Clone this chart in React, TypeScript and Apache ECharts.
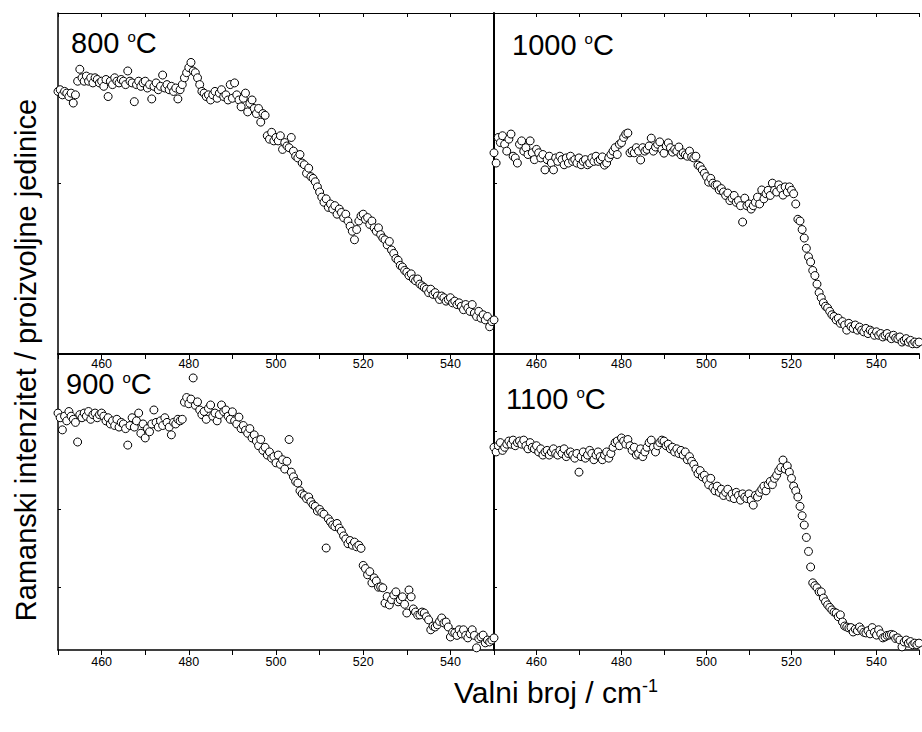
import React, { useEffect, useRef } from "react";
import * as echarts from "echarts";

const WAVENUMBERS = [
  450, 450.5, 451, 451.5, 452, 452.5, 453, 453.5, 454, 454.5, 455, 455.5, 456, 456.5, 457, 457.5, 458, 458.5, 459, 459.5,
  460, 460.5, 461, 461.5, 462, 462.5, 463, 463.5, 464, 464.5, 465, 465.5, 466, 466.5, 467, 467.5, 468, 468.5, 469, 469.5,
  470, 470.5, 471, 471.5, 472, 472.5, 473, 473.5, 474, 474.5, 475, 475.5, 476, 476.5, 477, 477.5, 478, 478.5, 479, 479.5,
  480, 480.5, 481, 481.5, 482, 482.5, 483, 483.5, 484, 484.5, 485, 485.5, 486, 486.5, 487, 487.5, 488, 488.5, 489, 489.5,
  490, 490.5, 491, 491.5, 492, 492.5, 493, 493.5, 494, 494.5, 495, 495.5, 496, 496.5, 497, 497.5, 498, 498.5, 499, 499.5,
  500, 500.5, 501, 501.5, 502, 502.5, 503, 503.5, 504, 504.5, 505, 505.5, 506, 506.5, 507, 507.5, 508, 508.5, 509, 509.5,
  510, 510.5, 511, 511.5, 512, 512.5, 513, 513.5, 514, 514.5, 515, 515.5, 516, 516.5, 517, 517.5, 518, 518.5, 519, 519.5,
  520, 520.5, 521, 521.5, 522, 522.5, 523, 523.5, 524, 524.5, 525, 525.5, 526, 526.5, 527, 527.5, 528, 528.5, 529, 529.5,
  530, 530.5, 531, 531.5, 532, 532.5, 533, 533.5, 534, 534.5, 535, 535.5, 536, 536.5, 537, 537.5, 538, 538.5, 539, 539.5,
  540, 540.5, 541, 541.5, 542, 542.5, 543, 543.5, 544, 544.5, 545, 545.5, 546, 546.5, 547, 547.5, 548, 548.5, 549, 549.5,
  550,
];

const I800 = [
  77.0, 77.5, 76.0, 77.0, 76.5, 75.5, 76.5, 73.6, 76.0, 80.0, 83.5, 81.0, 80.0, 81.5, 80.0, 81.0, 79.5, 81.0, 80.5, 79.5,
  80.0, 78.5, 80.5, 75.5, 80.0, 79.0, 81.0, 80.0, 79.5, 80.5, 80.0, 79.0, 83.0, 80.0, 79.5, 74.0, 79.0, 80.0, 78.5, 79.5,
  80.0, 78.0, 79.0, 74.8, 78.5, 79.5, 77.5, 78.5, 81.8, 78.0, 79.0, 77.5, 78.5, 77.0, 78.0, 74.8, 77.5, 79.0, 81.0, 82.5,
  84.0, 85.5, 83.0, 82.5, 81.0, 79.0, 77.0, 76.5, 75.5, 76.0, 74.5, 76.0, 77.0, 75.0, 76.5, 77.5, 75.5, 76.0, 74.5, 79.0,
  75.0, 79.5, 76.0, 74.5, 72.5, 75.0, 76.5, 71.0, 73.5, 74.5, 72.0, 70.5, 72.0, 68.0, 70.5, 70.0, 64.0, 63.0, 65.0, 62.5,
  63.5, 62.5, 64.0, 60.0, 62.0, 61.0, 60.5, 63.5, 59.5, 58.0, 57.5, 58.5, 56.0, 55.5, 53.0, 54.5, 52.0, 51.5, 50.5, 49.0,
  47.5, 46.0, 44.5, 45.5, 43.0, 44.0, 42.5, 43.5, 41.0, 42.5, 41.5, 40.0, 41.0, 39.0, 37.5, 36.0, 33.5, 36.5, 39.0, 40.5,
  41.0, 39.5, 40.0, 38.0, 39.0, 37.0, 36.0, 37.0, 35.0, 34.0, 33.5, 32.0, 33.0, 30.5, 29.5, 28.0, 27.5, 26.0, 25.5, 24.5,
  24.0, 23.0, 23.5, 22.0, 21.5, 22.0, 20.5, 20.0, 19.5, 19.0, 18.0, 19.0, 17.5, 18.0, 17.0, 16.0, 17.0, 16.5, 15.5, 16.0,
  16.5, 15.0, 15.5, 14.5, 15.0, 14.0, 13.0, 14.5, 13.5, 12.5, 14.5, 12.0, 11.0, 12.5, 10.5, 11.5, 10.0, 11.0, 8.0, 9.5,
  10.0,
];

const I1000 = [
  59.0, 56.0, 63.5, 62.0, 64.0, 61.5, 59.5, 63.0, 64.5, 58.0, 57.5, 56.0, 61.5, 62.5, 59.5, 60.5, 58.5, 62.5, 59.0, 57.0,
  60.0, 59.0, 57.5, 58.5, 54.0, 57.0, 58.0, 56.0, 54.0, 57.5, 56.5, 58.0, 57.0, 55.5, 57.5, 56.0, 58.0, 56.5, 57.0, 56.0,
  57.5, 55.5, 56.5, 57.0, 55.5, 56.0, 57.5, 56.5, 58.0, 56.5, 57.0, 57.8, 55.4, 56.0, 57.5, 58.5, 59.5, 60.5, 58.5, 61.5,
  62.0, 63.5, 64.5, 64.8, 59.0, 59.5, 59.0, 60.5, 59.5, 56.9, 60.5, 59.5, 60.0, 61.0, 63.3, 59.5, 60.7, 61.5, 62.2, 60.0,
  58.9, 61.0, 61.9, 60.5, 59.2, 60.0, 59.5, 60.7, 58.4, 59.0, 58.4, 58.0, 59.5, 57.8, 57.5, 58.0, 55.4, 55.0, 54.0, 53.0,
  52.0, 50.4, 51.5, 50.1, 49.5, 49.6, 48.1, 48.5, 47.5, 46.5, 47.2, 45.0, 45.7, 46.5, 44.5, 45.0, 43.5, 38.7, 45.7, 43.5,
  44.0, 42.5, 43.5, 44.5, 46.0, 44.0, 48.1, 45.5, 47.0, 48.0, 46.5, 50.1, 48.0, 47.5, 49.6, 48.5, 46.6, 49.0, 47.5, 49.0,
  48.0, 47.0, 44.0, 39.5, 39.0, 36.5, 34.0, 31.0, 28.5, 27.0, 24.5, 23.0, 20.5, 18.0, 16.5, 15.0, 14.0, 13.5, 12.5, 11.5,
  11.0, 10.0, 10.5, 9.0, 9.5, 8.5, 7.0, 9.0, 8.0, 7.5, 8.5, 7.0, 7.9, 7.0, 6.5, 7.5, 6.0, 7.0, 6.5, 5.5,
  6.5, 5.5, 6.0, 5.0, 5.5, 6.0, 5.0, 4.5, 5.5, 4.7, 4.5, 5.0, 3.5, 4.0, 4.5, 3.5, 4.0, 3.0, 3.5, 3.0,
  3.5,
];

const I900 = [
  81.0, 79.5, 75.6, 80.0, 78.5, 81.5, 80.0, 79.0, 78.0, 71.7, 80.5, 79.5, 81.0, 80.0, 81.5, 79.0, 80.5, 81.0, 79.5, 80.5,
  81.0, 80.0, 78.5, 79.5, 77.5, 78.5, 77.0, 79.0, 76.5, 78.0, 77.5, 76.0, 70.7, 77.0, 79.5, 76.5, 78.5, 81.0, 74.5, 77.5,
  73.0, 76.0, 75.0, 77.5, 82.0, 78.0, 76.5, 78.5, 77.0, 79.5, 78.0, 76.5, 74.0, 78.0, 77.5, 79.0, 78.5, 79.0, 84.5, 86.0,
  84.0, 85.5, 92.3, 83.5, 84.6, 82.0, 80.5, 81.5, 79.0, 82.5, 83.6, 80.0, 81.0, 78.5, 80.5, 83.6, 81.5, 82.0, 80.0, 79.0,
  81.4, 78.5, 77.5, 79.7, 76.0, 77.0, 75.5, 74.5, 76.0, 73.0, 74.0, 72.0, 70.5, 72.5, 69.0, 70.0, 67.5, 68.5, 66.5, 67.0,
  65.0, 67.5, 64.5, 66.0, 63.0, 65.5, 72.5, 62.0, 60.5, 59.0, 58.5, 56.0, 55.0, 54.5, 53.5, 54.0, 52.5, 51.5, 51.0, 49.5,
  50.0, 49.0, 48.5, 37.6, 47.0, 46.0, 45.0, 44.5, 45.5, 44.0, 43.0, 41.5, 40.5, 39.0, 40.0, 38.5, 39.5, 38.0, 38.5, 37.5,
  32.0, 31.0, 29.0, 30.0, 26.4, 28.0, 27.0, 25.0, 25.1, 24.8, 19.9, 22.0, 19.3, 21.0, 22.5, 23.5, 20.3, 21.0, 21.9, 19.5,
  16.7, 24.1, 21.9, 18.0, 17.0, 16.0, 16.1, 17.0, 16.7, 15.5, 14.5, 11.3, 12.5, 12.2, 12.9, 14.0, 15.1, 13.5, 13.8, 12.2,
  9.0, 10.5, 10.3, 9.5, 11.3, 10.0, 11.3, 9.5, 8.7, 10.0, 11.3, 9.5, 5.5, 8.5, 9.0, 9.6, 7.1, 8.0, 7.4, 8.0,
  8.7,
];

const I1100 = [
  70.0, 68.5, 70.5, 71.5, 69.0, 70.0, 71.0, 72.0, 71.0, 72.3, 70.5, 71.5, 72.0, 71.0, 72.3, 70.5, 69.5, 71.5, 70.0, 69.5,
  70.5, 68.5, 69.5, 67.5, 68.5, 69.0, 67.5, 68.5, 69.5, 68.0, 67.5, 69.0, 68.0, 69.5, 67.0, 68.0, 68.5, 67.5, 66.5, 68.0,
  62.0, 67.0, 68.5, 66.5, 67.5, 69.0, 68.0, 66.0, 67.5, 68.5, 67.0, 66.0, 67.5, 68.5, 66.5, 68.0, 70.0, 71.5, 72.0, 70.5,
  73.0, 72.0, 71.0, 72.5, 70.5, 69.0, 70.0, 67.5, 68.0, 69.5, 67.0, 68.5, 70.0, 71.5, 72.3, 70.0, 68.5, 70.5, 71.5, 72.3,
  72.0, 70.5, 71.0, 69.5, 70.0, 68.5, 69.5, 68.0, 69.0, 67.5, 68.5, 66.0, 67.0, 65.5, 64.5, 63.0, 61.5, 62.5, 60.5, 61.0,
  59.5, 58.0, 60.0, 57.0, 56.0, 57.5, 55.5, 56.5, 54.5, 55.5, 56.5, 54.0, 55.0, 53.5, 55.5, 54.5, 53.0, 55.0, 54.0, 53.5,
  55.0, 53.0, 51.4, 54.5, 54.0, 55.5, 56.5, 57.5, 56.0, 58.0, 59.0, 58.0, 60.0, 61.0, 62.5, 63.5, 65.9, 63.0, 64.0, 62.0,
  60.0, 57.5, 56.0, 54.0, 51.0, 48.0, 45.0, 41.0, 36.5, 31.5, 26.4, 25.5, 24.8, 23.5, 23.5, 21.5, 20.3, 19.3, 18.5, 17.7,
  17.0, 16.7, 15.5, 16.1, 13.8, 12.5, 12.2, 11.9, 12.0, 10.6, 11.5, 11.0, 12.2, 11.3, 10.5, 10.3, 11.0, 10.0, 12.0, 10.5,
  9.6, 11.3, 10.0, 8.7, 9.0, 9.5, 9.6, 9.8, 9.6, 8.5, 8.7, 8.0, 5.8, 7.4, 8.0, 7.0, 7.5, 6.5, 7.0, 6.5,
  7.0,
];

const X_TICK_LABELS = [460, 480, 500, 520, 540];
const TOP_Y_TICKS = [50];
const BOTTOM_Y_TICKS = [25, 50, 75];
const PANEL_TEMPS = ["800", "1000", "900", "1100"];
const X_TITLE = "Valni broj / cm";
const X_TITLE_SUP = "-1";
const Y_TITLE = "Ramanski intenzitet / proizvoljne jedinice";

const FONT = "'Liberation Sans', Arial, Helvetica, sans-serif";

export default function App() {
  const ref = useRef<HTMLDivElement>(null);

  useEffect(() => {
    if (!ref.current) return;
    const chart = echarts.init(ref.current, null, { renderer: "svg" });

    const grids = [
      { left: 58, top: 13, width: 436, height: 341 },
      { left: 494, top: 13, width: 440, height: 341 },
      { left: 58, top: 354, width: 436, height: 296 },
      { left: 494, top: 354, width: 440, height: 296 },
    ];

    const xBottom = (gi: number, lineW: number, margin: number) => ({
      type: "value",
      gridIndex: gi,
      position: "bottom",
      min: 450,
      max: 550,
      interval: 10,
      axisLine: { show: true, onZero: false, lineStyle: { color: "#000", width: lineW } },
      axisTick: { show: true, inside: false, length: 5, lineStyle: { color: "#000", width: 1 } },
      axisLabel: {
        show: true,
        margin,
        fontSize: 12.5,
        color: "#000",
        fontFamily: FONT,
        formatter: (v: number) => (X_TICK_LABELS.indexOf(v) >= 0 ? String(v) : ""),
      },
      splitLine: { show: false },
    });

    const xTop = (gi: number) => ({
      type: "value",
      gridIndex: gi,
      position: "top",
      min: 450,
      max: 550,
      interval: 10,
      axisLine: { show: true, onZero: false, lineStyle: { color: "#000", width: 1 } },
      axisTick: { show: true, inside: true, length: 4, lineStyle: { color: "#000", width: 1 } },
      axisLabel: { show: false },
      splitLine: { show: false },
    });

    const yLeft = (gi: number, lineW: number, min: number, ticks: number[]) => ({
      type: "value",
      gridIndex: gi,
      min,
      max: 100,
      axisLine: { show: true, onZero: false, lineStyle: { color: "#000", width: lineW } },
      axisTick: {
        show: true,
        inside: true,
        length: 3,
        customValues: ticks,
        lineStyle: { color: "#000", width: 1 },
      },
      axisLabel: { show: false },
      splitLine: { show: false },
    });

    const seriesData = [I800, I1000, I900, I1100];

    const series = seriesData.map((arr, i) => ({
      type: "scatter",
      xAxisIndex: i,
      yAxisIndex: i,
      symbol: "circle",
      symbolSize: 8,
      itemStyle: { color: "#fff", borderColor: "#000", borderWidth: 1, opacity: 1 },
      data: WAVENUMBERS.map((w, k) => [w, arr[k]]),
      silent: true,
    }));

    const panelLabel = (temp: string, x: number, y: number) => ({
      type: "text",
      x,
      y,
      silent: true,
      z: 100,
      style: {
        text: temp + " {s|o}C",
        fontSize: 29,
        fontFamily: FONT,
        fill: "#000",
        align: "left",
        verticalAlign: "middle",
        textAlign: "left",
        textVerticalAlign: "middle",
        rich: {
          s: { fontSize: 15, fontFamily: FONT, fill: "#000", verticalAlign: "top" },
        },
      },
    });

    const option = {
      animation: false,
      backgroundColor: "#fff",
      grid: grids.map((g) => ({ ...g, containLabel: false })),
      xAxis: [
        xBottom(0, 2, 3),
        xBottom(1, 2, 3),
        xBottom(2, 1.5, 5),
        xBottom(3, 1.5, 5),
        xTop(0),
        xTop(1),
      ],
      yAxis: [
        yLeft(0, 1.5, 0, TOP_Y_TICKS),
        yLeft(1, 2, 0, TOP_Y_TICKS),
        yLeft(2, 1.5, 4.8, BOTTOM_Y_TICKS),
        yLeft(3, 2, 4.8, BOTTOM_Y_TICKS),
      ],
      series,
      graphic: [
        panelLabel(PANEL_TEMPS[0], 71, 43),
        panelLabel(PANEL_TEMPS[1], 512, 45),
        panelLabel(PANEL_TEMPS[2], 66, 384),
        panelLabel(PANEL_TEMPS[3], 506, 399),
        {
          type: "text",
          x: 26,
          y: 360,
          rotation: Math.PI / 2,
          silent: true,
          style: {
            text: Y_TITLE,
            fontSize: 29,
            fontFamily: FONT,
            fill: "#000",
            align: "center",
            verticalAlign: "middle",
            textAlign: "center",
            textVerticalAlign: "middle",
          },
        },
        {
          type: "text",
          x: 556,
          y: 692,
          silent: true,
          style: {
            text: X_TITLE + "{s|" + X_TITLE_SUP + "}",
            fontSize: 30,
            fontFamily: FONT,
            fill: "#000",
            align: "center",
            verticalAlign: "middle",
            textAlign: "center",
            textVerticalAlign: "middle",
            rich: {
              s: { fontSize: 18, fontFamily: FONT, fill: "#000", verticalAlign: "top" },
            },
          },
        },
      ],
    };

    chart.setOption(option as any);
    return () => chart.dispose();
  }, []);

  return (
    <div
      ref={ref}
      style={{ position: "absolute", left: 0, top: 0, width: 922, height: 732, background: "#fff" }}
    />
  );
}
